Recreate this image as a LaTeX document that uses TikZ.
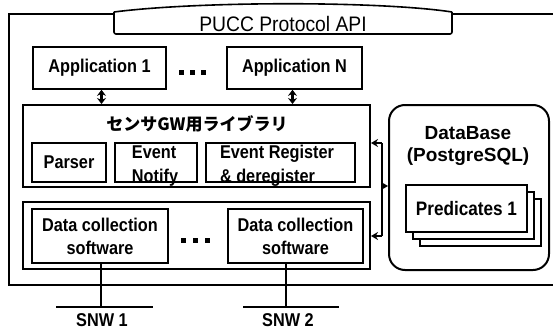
\documentclass[tikz,border=0pt]{standalone}
\usepackage{fontspec}
\setmainfont{Liberation Sans}
\newfontfamily\condfont{Liberation Sans}[FakeStretch=0.88]
\newfontfamily\apifont{Liberation Sans}[FakeStretch=0.92]
\newfontfamily\jpfont{Noto Sans CJK JP}
\usetikzlibrary{arrows.meta}
\begin{document}
\begin{tikzpicture}[x=1pt,y=-1pt,
  box/.style={draw, line width=1.6pt, inner sep=0pt, font=\condfont\bfseries\fontsize{18.5}{22}\selectfont, align=center},
  grp/.style={draw, line width=2pt, inner sep=0pt},
  outer/.style={line width=2.2pt},
  dbl/.style={{Stealth[length=6pt,width=9pt]}-{Stealth[length=6pt,width=9pt]}, line width=2.6pt},
  conn/.style={line width=2pt},
  tip/.style={-{Stealth[length=7pt,width=8pt]}, line width=2pt},
  dots/.style={fill=black, minimum size=5pt, inner sep=0pt},
  lbl/.style={font=\condfont\bfseries\fontsize{18.5}{22}\selectfont, inner sep=0pt}
]
\useasboundingbox (0,0) rectangle (553,329);
\fill[white] (0,0) rectangle (553,329);

% outer frame
\draw[outer] (114,14) -- (9,14) -- (9,285) -- (553,285);
\draw[outer] (452,14) -- (553,14);
% PUCC tab
\draw[line width=1.6pt, rounded corners=2pt] (114,12) -- (114,34) -- (452,34) -- (452,12);
\draw[line width=1.6pt] (452,12) .. controls (380,1) and (200,1) .. (114,12);
\node[font=\apifont\fontsize{21}{24}\selectfont, inner sep=0pt] (api) at (283,24) {PUCC Protocol API};

% applications
\node[box, minimum width=133pt, minimum height=42pt] (app1) at (99.5,68) {Application 1};
\node[box, minimum width=135pt, minimum height=42pt] (appn) at (294.5,68) {Application N};
\node[dots] (d1) at (181,72) {};
\node[dots] (d2) at (192,72) {};
\node[dots] (d3) at (203,72) {};

% library
\node[grp, minimum width=347pt, minimum height=82pt] (lib) at (196.5,146) {};
\node[lbl, font=\jpfont\bfseries\fontsize{17}{20}\selectfont] (libt) at (197,124) {センサGW用ライブラリ};
\node[box, minimum width=74pt, minimum height=39pt] (parser) at (69,162.5) {Parser};
\node[box, minimum width=82pt, minimum height=39pt] (notify) at (156,162.5) {};
\node[lbl, align=left, font=\condfont\bfseries\fontsize{18.5}{24}\selectfont] (notifyt) at (155,166) {Event\\Notify};
\node[box, minimum width=149pt, minimum height=39pt] (reg) at (280.5,162.5) {};
\node[lbl, align=left, font=\condfont\bfseries\fontsize{18.5}{24}\selectfont] (regt) at (277,166) {Event Register\\\& deregister};

\draw[dbl] ([xshift=2pt]app1.south) -- ([xshift=2pt]app1.south |- lib.north);
\draw[dbl] ([xshift=-2pt]appn.south) -- ([xshift=-2pt]appn.south |- lib.north);

% data collection
\node[grp, minimum width=347pt, minimum height=67pt] (dcg) at (196.5,235.5) {};
\node[box, minimum width=136pt, minimum height=54pt, font=\condfont\bfseries\fontsize{18.5}{23}\selectfont] (dc1) at (100,236) {Data collection\\software};
\node[box, minimum width=135pt, minimum height=54pt, font=\condfont\bfseries\fontsize{18.5}{23}\selectfont] (dc2) at (295.5,236) {Data collection\\software};
\node[dots] (e1) at (183,240) {};
\node[dots] (e2) at (195,240) {};
\node[dots] (e3) at (207,240) {};

% database
\node[draw, line width=2pt, rounded corners=16pt, minimum width=160pt, minimum height=165pt, inner sep=0pt] (db) at (469,187.5) {};
\node[lbl, font=\bfseries\fontsize{19}{22}\selectfont] (dbt) at (468,133) {DataBase};
\node[lbl, font=\bfseries\fontsize{19}{22}\selectfont] (pgt) at (468,157) {(PostgreSQL)};
\node[draw, fill=white, line width=1.4pt, minimum width=121pt, minimum height=47pt, inner sep=0pt] (p3) at (480.5,222.5) {};
\node[draw, fill=white, line width=1.4pt, minimum width=121pt, minimum height=47pt, inner sep=0pt] (p2) at (473.5,215.5) {};
\node[box, fill=white, line width=1.4pt, minimum width=121pt, minimum height=47pt, font=\condfont\bfseries\fontsize{19.5}{22}\selectfont] (p1) at (466.5,208.5) {Predicates 1};

% connector bracket
\coordinate (bt) at (382,143);
\coordinate (bb) at (382,236);
\draw[conn] (bt) -- (bb);
\draw[tip] (bt) -- (bt -| lib.east);
\draw[tip] (bb) -- (bb -| dcg.east);
\draw[tip] (382,186) -- (db.west |- 0,186);

% SNW
\coordinate (s1) at (101,307);
\coordinate (s2) at (286,307);
\draw[conn] (dc1.south -| s1) -- (s1);
\draw[conn] (dc2.south -| s2) -- (s2);
\draw[conn] (56,307) -- (153,307);
\draw[conn] (243,307) -- (339,307);
\node[lbl] (snw1) at (102,320) {SNW 1};
\node[lbl] (snw2) at (288,320) {SNW 2};
\end{tikzpicture}
\end{document}
